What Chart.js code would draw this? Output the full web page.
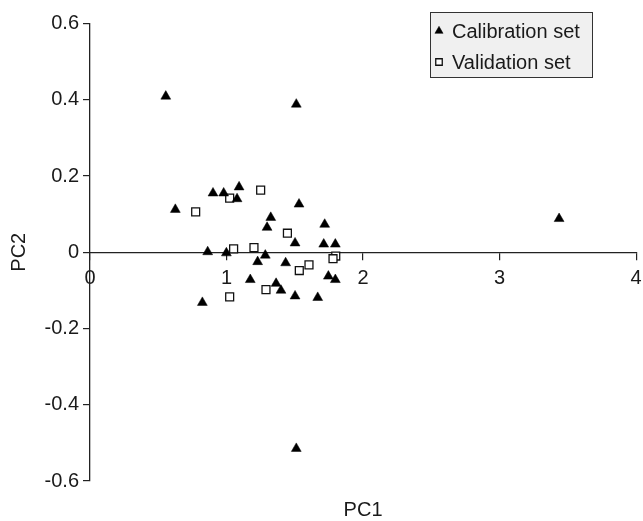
<!DOCTYPE html>
<html>
<head>
<meta charset="utf-8">
<script src="https://cdn.jsdelivr.net/npm/chart.js@4.4.1/dist/chart.umd.min.js"></script>
<style>
  html, body { margin: 0; padding: 0; background: #fff; }
</style>
</head>
<body>
<canvas id="pcaChart" width="643" height="521"></canvas>
<script>
// scores
const calibPC1 = [0.555, 1.511, 0.901, 0.979, 1.092, 1.077, 0.625, 1.531, 1.324, 1.297,
                  1.719, 1.502, 1.712, 1.797, 0.862, 0.999, 1.284, 1.228, 1.433, 1.746,
                  1.797, 1.174, 1.363, 1.399, 1.502, 1.668, 0.823, 3.436, 1.511];
const calibPC2 = [0.409, 0.388, 0.155, 0.155, 0.171, 0.140, 0.112, 0.126, 0.091, 0.065,
                  0.073, 0.024, 0.021, 0.021, 0.001, -0.002, -0.008, -0.025, -0.028, -0.063,
                  -0.072, -0.072, -0.082, -0.100, -0.115, -0.119, -0.132, 0.088, -0.515];
const validPC1 = [0.774, 1.023, 1.250, 1.446, 1.052, 1.201, 1.800, 1.780, 1.604, 1.533, 1.289, 1.023];
const validPC2 = [0.106, 0.142, 0.163, 0.050, 0.009, 0.012, -0.010, -0.017, -0.033, -0.048, -0.098, -0.117];

const seriesNames = ['Calibration set', 'Validation set'];
const xTicks = [0, 1, 2, 3, 4];
const yTicks = [-0.6, -0.4, -0.2, 0, 0.2, 0.4, 0.6];

const FONT = "'Liberation Sans', Arial, sans-serif";
const INK = '#1a1a1a';

const toPoints = (xs, ys) => xs.map((x, i) => ({ x: x, y: ys[i] }));

// legend drawn as a boxed key in the top right corner
const boxLegend = {
  id: 'boxLegend',
  afterDraw(chart) {
    const ctx = chart.ctx;
    ctx.save();
    ctx.fillStyle = '#f0f0f0';
    ctx.strokeStyle = '#333';
    ctx.lineWidth = 1;
    ctx.fillRect(430.5, 12.5, 162, 65);
    ctx.strokeRect(430.5, 12.5, 162, 65);
    chart.data.datasets.forEach((ds, i) => {
      const y = 31 + i * 31;
      ctx.fillStyle = ds.backgroundColor;
      ctx.strokeStyle = ds.borderColor;
      ctx.lineWidth = ds.borderWidth;
      Chart.helpers.drawPoint(ctx, {
        pointStyle: ds.pointStyle,
        radius: ds.pointRadius - 1,
        borderWidth: ds.borderWidth
      }, 439, y);
      ctx.fillStyle = INK;
      ctx.font = '20px ' + FONT;
      ctx.textAlign = 'left';
      ctx.textBaseline = 'middle';
      ctx.fillText(ds.label, 452, y + 1);
    });
    ctx.restore();
  }
};

new Chart(document.getElementById('pcaChart').getContext('2d'), {
  type: 'scatter',
  data: {
    datasets: [{
      label: seriesNames[0],
      data: toPoints(calibPC1, calibPC2),
      pointStyle: 'triangle',
      pointRadius: 5.7,
      backgroundColor: '#000',
      borderColor: '#000',
      borderWidth: 0.5
    }, {
      label: seriesNames[1],
      data: toPoints(validPC1, validPC2),
      pointStyle: 'rect',
      pointRadius: 5.6,
      backgroundColor: '#fff',
      borderColor: '#111',
      borderWidth: 1.3
    }]
  },
  options: {
    responsive: false,
    animation: false,
    layout: { padding: { top: 23.5, right: 0, left: 0, bottom: 0 } },
    plugins: {
      legend: { display: false },
      tooltip: { enabled: false }
    },
    scales: {
      x: {
        type: 'linear',
        position: { y: 0 },
        min: 0,
        max: 4,
        afterBuildTicks: s => { s.ticks = xTicks.map(v => ({ value: v })); },
        ticks: {
          color: INK,
          font: { size: 20, family: FONT },
          padding: 7,
          callback: v => String(v)
        },
        grid: { drawOnChartArea: false, drawTicks: true, tickLength: 7, color: '#222', lineWidth: 1.2 },
        border: { color: '#222', width: 1.3 },
        // keep the plot right edge at the "4" tick like the original
        afterFit: s => { s.paddingLeft = 0; s.paddingRight = 6; }
      },
      xTitle: {
        type: 'linear',
        axis: 'x',
        position: 'bottom',
        min: 0,
        max: 4,
        ticks: { display: false },
        grid: { display: false, drawTicks: false },
        border: { display: false },
        title: {
          display: true,
          text: 'PC1',
          color: INK,
          font: { size: 20, family: FONT, lineHeight: 1 },
          padding: { top: 0, bottom: 1 }
        },
        afterFit: s => { s.height = 40; s.paddingLeft = 0; s.paddingRight = 0; }
      },
      y: {
        type: 'linear',
        position: 'left',
        min: -0.6,
        max: 0.6,
        afterBuildTicks: s => { s.ticks = yTicks.map(v => ({ value: v })); },
        ticks: {
          color: INK,
          font: { size: 20, family: FONT },
          padding: 4,
          callback: v => (Math.abs(v) < 1e-9 ? '0' : v.toFixed(1))
        },
        grid: { drawOnChartArea: false, drawTicks: true, tickLength: 7, color: '#222', lineWidth: 1.2 },
        border: { color: '#222', width: 1.3 },
        title: {
          display: true,
          text: 'PC2',
          color: INK,
          font: { size: 20, family: FONT, lineHeight: 1 },
          padding: { top: 9, bottom: 0 }
        },
        afterFit: s => { s.width = 90; }
      }
    }
  },
  plugins: [boxLegend]
});
</script>
</body>
</html>
